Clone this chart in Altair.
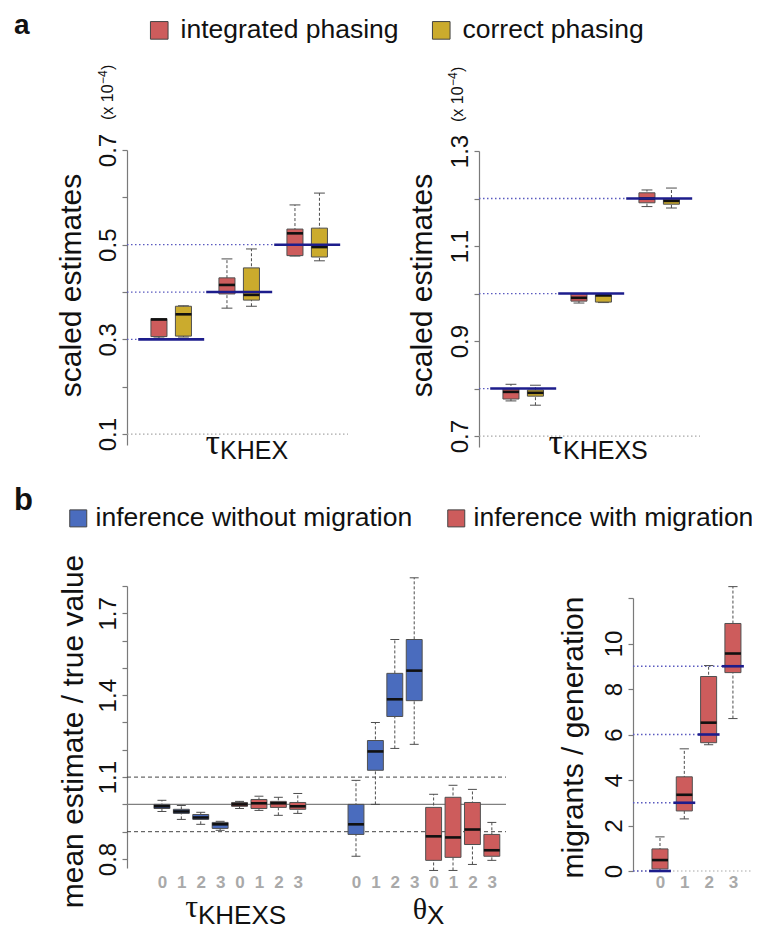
import json
import altair as alt
import pandas as pd

# ------------------------------------------------------------------ data
PHASING = ["integrated phasing", "correct phasing"]
INFERENCE = ["inference without migration", "inference with migration"]
MIG_LEVELS = ["0", "1", "2", "3"]

# each row: lower whisker, Q1, median, Q3, upper whisker
TAU_KHEX_TRUE = [0.3, 0.4, 0.5]
TAU_KHEX_INTEGRATED = [
    [0.303, 0.306, 0.342, 0.344, 0.344],
    [0.366, 0.396, 0.415, 0.430, 0.470],
    [0.476, 0.477, 0.524, 0.533, 0.584],
]
TAU_KHEX_CORRECT = [
    [0.305, 0.307, 0.353, 0.370, 0.371],
    [0.370, 0.383, 0.394, 0.451, 0.491],
    [0.466, 0.474, 0.495, 0.535, 0.609],
]
TAU_KHEXS_TRUE = [0.8, 1.0, 1.2]
TAU_KHEXS_INTEGRATED = [
    [0.774, 0.778, 0.793, 0.799, 0.809],
    [0.980, 0.984, 0.991, 0.999, 1.000],
    [1.183, 1.191, 1.200, 1.212, 1.218],
]
TAU_KHEXS_CORRECT = [
    [0.765, 0.784, 0.791, 0.797, 0.807],
    [0.981, 0.982, 0.996, 0.997, 0.998],
    [1.180, 1.188, 1.195, 1.199, 1.222],
]
RATIO_TAU_NOMIG = [
    [0.974, 0.985, 0.993, 1.000, 1.015],
    [0.945, 0.967, 0.974, 0.982, 0.996],
    [0.927, 0.945, 0.952, 0.963, 0.971],
    [0.905, 0.912, 0.927, 0.934, 0.938],
]
RATIO_TAU_MIG = [
    [0.985, 0.993, 1.000, 1.007, 1.011],
    [0.978, 0.985, 1.004, 1.018, 1.030],
    [0.960, 0.989, 1.004, 1.011, 1.026],
    [0.967, 0.982, 0.993, 1.007, 1.040],
]
RATIO_THETA_NOMIG = [
    [0.810, 0.890, 0.927, 1.000, 1.088],
    [1.000, 1.125, 1.194, 1.234, 1.300],
    [1.205, 1.322, 1.385, 1.480, 1.604],
    [1.220, 1.380, 1.490, 1.604, 1.830],
]
RATIO_THETA_MIG = [
    [0.758, 0.795, 0.883, 0.989, 1.037],
    [0.758, 0.806, 0.879, 1.026, 1.070],
    [0.780, 0.853, 0.908, 1.007, 1.055],
    [0.795, 0.810, 0.832, 0.890, 0.934],
]
RATIO_DASHED = [0.9, 1.1]
RATIO_SOLID = [1.0]
MIGRANTS_TRUE = [0, 3, 6, 9]
MIGRANTS_MIG = [
    [0.00, 0.09, 0.48, 0.97, 1.50],
    [2.29, 2.64, 3.35, 4.14, 5.37],
    [5.55, 5.64, 6.52, 8.55, 9.03],
    [6.70, 8.72, 9.56, 10.88, 12.50],
]

A_LEFT_TICKS = [0.1, 0.2, 0.3, 0.4, 0.5, 0.6, 0.7]
A_LEFT_LABELS = ["0.1", "0.3", "0.5", "0.7"]
A_RIGHT_TICKS = [0.7, 0.8, 0.9, 1.0, 1.1, 1.2, 1.3]
A_RIGHT_LABELS = ["0.7", "0.9", "1.1", "1.3"]
B_LEFT_TICKS = [0.8, 0.9, 1.0, 1.1, 1.2, 1.3, 1.4, 1.5, 1.6, 1.7, 1.8]
B_LEFT_LABELS = ["0.8", "1.1", "1.4", "1.7"]
B_RIGHT_TICKS = [0, 2, 4, 6, 8, 10, 12]
B_RIGHT_LABELS = ["0", "2", "4", "6", "8", "10"]

# ------------------------------------------------------------------ style
SANS = "Liberation Sans, Arial, Helvetica, sans-serif"
SERIF = "Liberation Serif, DejaVu Serif, serif"
RED = "#cd5c5c"
YELLOW = "#cbab2d"
BLUE = "#4a6cbe"
NAVY = "#1d1d8c"
DOT_BLUE = "#5a5abf"
GRID_GRAY = "#a8a8a8"
AXIS_GRAY = "#7a7a7a"
WHISKER = "#4d4d4d"
INK = "#111111"
W, H = 744, 921

# scales (explicit pixel ranges inside one canvas)
XS_A1 = alt.Scale(domain=[0.35, 3.6], range=[119, 340], nice=False, zero=False)
YS_A1 = alt.Scale(domain=[0.077, 0.7], range=[437, 142], nice=False, zero=False)
XS_A2 = alt.Scale(domain=[0.35, 3.6], range=[471, 692], nice=False, zero=False)
YS_A2 = alt.Scale(domain=[0.677, 1.3], range=[439, 143], nice=False, zero=False)
XS_B1 = alt.Scale(domain=[-1.8, 17.73], range=[119, 498], nice=False, zero=False)
YS_B1 = alt.Scale(domain=[0.767, 1.8], range=[860, 578], nice=False, zero=False)
XS_B2 = alt.Scale(domain=[-1.11, 3.99], range=[625, 749], nice=False, zero=False)
YS_B2 = alt.Scale(domain=[0, 12], range=[863, 590], nice=False, zero=False)

TOP_COLORS = alt.Scale(domain=PHASING, range=[RED, YELLOW])
BOT_COLORS = alt.Scale(domain=INFERENCE, range=[BLUE, RED])


def y_axis(ticks, shown, fmt, axis_x, title, title_x, title_y):
    return alt.Axis(
        orient="left", offset=-axis_x, values=ticks, format=fmt,
        labelExpr=f"indexof({json.dumps(shown)}, datum.label) >= 0 ? datum.label : ''",
        grid=False, domainColor=AXIS_GRAY, tickColor=AXIS_GRAY, domainWidth=1.2,
        tickWidth=1.2, tickSize=5, labelAngle=270, labelAlign="center",
        labelBaseline="alphabetic", labelPadding=7, labelFont=SANS, labelFontSize=24,
        labelColor=INK, labelFlush=False, labelOverlap=False,
        title=title, titleFont=SANS, titleFontSize=30, titleFontWeight="normal",
        titleColor=INK, titleAngle=270, titleAlign="center", titleBaseline="alphabetic",
        titleX=title_x, titleY=title_y, titleLimit=1000,
    )


def x_axis(positions, labels):
    return alt.Axis(
        orient="bottom", offset=879 - H, values=positions,
        labelExpr=f"{json.dumps(labels)}[datum.value]",
        domain=False, ticks=False, tickSize=0, grid=False, labelPadding=0,
        labelBaseline="alphabetic", labelAlign="center", labelFont=SANS,
        labelFontSize=17, labelFontWeight="bold", labelColor="#a9a9a9",
        labelFlush=False, labelOverlap=False, title=None,
    )


def box_rows(rows, positions, key, box_half, cap_half):
    out = []
    for p, (lo, q1, md, q3, hi) in zip(positions, rows):
        out.append(dict(key=key, pos=p, lo=lo, q1=q1, med=md, q3=q3, hi=hi,
                        xl=p - box_half, xr=p + box_half,
                        cl=p - cap_half, cr=p + cap_half))
    return out


def hline(df, xs, ys, style, xaxis=None, yaxis=None):
    return alt.Chart(df).mark_rule(**style).encode(
        x=alt.X("x0:Q", scale=xs, axis=xaxis), x2=alt.X2("x1"),
        y=alt.Y("y:Q", scale=ys, axis=yaxis))


def box_layers(df, xs, ys, cscale, legend):
    d = pd.DataFrame(df)
    whisk = alt.Chart(d).mark_rule(color=WHISKER, strokeWidth=1, strokeDash=[3, 2]).encode(
        x=alt.X("pos:Q", scale=xs, axis=None), y=alt.Y("lo:Q", scale=ys, axis=None), y2="hi")
    cap_lo = alt.Chart(d).mark_rule(color=WHISKER, strokeWidth=1).encode(
        x=alt.X("cl:Q", scale=xs, axis=None), x2="cr", y=alt.Y("lo:Q", scale=ys, axis=None))
    cap_hi = alt.Chart(d).mark_rule(color=WHISKER, strokeWidth=1).encode(
        x=alt.X("cl:Q", scale=xs, axis=None), x2="cr", y=alt.Y("hi:Q", scale=ys, axis=None))
    box = alt.Chart(d).mark_rect(stroke="#505050", strokeWidth=1).encode(
        x=alt.X("xl:Q", scale=xs, axis=None), x2="xr",
        y=alt.Y("q1:Q", scale=ys, axis=None), y2="q3",
        color=alt.Color("key:N", scale=cscale, legend=legend))
    med = alt.Chart(d).mark_rule(color=INK, strokeWidth=2.6).encode(
        x=alt.X("xl:Q", scale=xs, axis=None), x2="xr", y=alt.Y("med:Q", scale=ys, axis=None))
    return [whisk, cap_lo, cap_hi, box, med]


def text(t, x, y, size, font=SANS, weight="normal", align="left", angle=None, color=INK):
    mk = dict(align=align, baseline="alphabetic", font=font, fontSize=size,
              fontWeight=weight, color=color)
    if angle is not None:
        mk["angle"] = angle
    return alt.Chart(pd.DataFrame({"t": [t]})).mark_text(**mk).encode(
        text="t:N", x=alt.value(x), y=alt.value(y))


def scale_note(x_base, y_start):
    """rotated '(x 10^-4)' reading upwards from y_start."""
    return [
        text("(x 10", x_base, y_start, 16, angle=270),
        text("\u22124", x_base - 6, y_start - 36, 12, angle=270),
        text(")", x_base, y_start - 50, 16, angle=270),
    ]


DOTTED_BLUE = dict(color=DOT_BLUE, strokeWidth=1.3, strokeDash=[1.5, 2.5])
DOTTED_GRAY = dict(color=GRID_GRAY, strokeWidth=1.2, strokeDash=[1.5, 2.5])
SEGMENT = dict(color=NAVY, strokeWidth=2.6)

legend_common = dict(
    orient="none", direction="horizontal", title=None, labelFont=SANS,
    labelFontSize=26.5, labelColor=INK, labelLimit=0, symbolType="square",
    symbolStrokeColor="#444444", symbolStrokeWidth=1, padding=0,
)
TOP_LEGEND = alt.Legend(legendX=138, legendY=9, symbolSize=310, labelOffset=8,
                        columnPadding=29, **legend_common)
BOT_LEGEND = alt.Legend(legendX=57, legendY=497, symbolSize=289, labelOffset=4,
                        columnPadding=30, **legend_common)

layers = []

# ------------------------------------------------------------------ panel a (two sub-panels)
GROUP_SHIFT, BOX_HALF_A, CAP_HALF_A, TRUE_HALF_A = 0.18, 0.118, 0.08, 0.485


def panel_a(true_vals, integ, corr, ticks, shown, xs, ys, axis_x, title_y, title_x, cscale, legend):
    centers = [1 + i for i in range(len(true_vals))]
    lo_tick = min(ticks)
    x_lo, x_hi = xs.domain[0], xs.domain[1]
    grid = pd.DataFrame({"x0": [x_lo], "x1": [x_hi], "y": [lo_tick]})
    dots = pd.DataFrame({"x0": [x_lo] * len(true_vals),
                         "x1": [c - TRUE_HALF_A for c in centers], "y": true_vals})
    segs = pd.DataFrame({"x0": [c - TRUE_HALF_A for c in centers],
                         "x1": [c + TRUE_HALF_A for c in centers], "y": true_vals})
    out = [hline(grid, xs, ys, DOTTED_GRAY, xaxis=None,
                 yaxis=y_axis(ticks, shown, ".1f", axis_x, "scaled estimates", title_x, title_y)),
           hline(dots, xs, ys, DOTTED_BLUE)]
    rows = box_rows(integ, [c - GROUP_SHIFT for c in centers], PHASING[0], BOX_HALF_A, CAP_HALF_A)
    rows += box_rows(corr, [c + GROUP_SHIFT for c in centers], PHASING[1], BOX_HALF_A, CAP_HALF_A)
    out += box_layers(rows, xs, ys, cscale, legend)
    out.append(hline(segs, xs, ys, SEGMENT))
    return out


layers += panel_a(TAU_KHEX_TRUE, TAU_KHEX_INTEGRATED, TAU_KHEX_CORRECT, A_LEFT_TICKS,
                  A_LEFT_LABELS, XS_A1, YS_A1, 119, 277, -47, TOP_COLORS, TOP_LEGEND)
layers += panel_a(TAU_KHEXS_TRUE, TAU_KHEXS_INTEGRATED, TAU_KHEXS_CORRECT, A_RIGHT_TICKS,
                  A_RIGHT_LABELS, XS_A2, YS_A2, 471, 277, -48, TOP_COLORS, None)

# ------------------------------------------------------------------ panel b, left
BOX_HALF_B1, CAP_HALF_B1 = 0.41, 0.23
b1_positions = list(range(0, 8)) + list(range(10, 18))
b1_labels = MIG_LEVELS * 2 + ["", ""] + MIG_LEVELS * 2
xlo, xhi = XS_B1.domain[0], XS_B1.domain[1]
solid = pd.DataFrame({"x0": [xlo] * len(RATIO_SOLID), "x1": [xhi] * len(RATIO_SOLID), "y": RATIO_SOLID})
dashed = pd.DataFrame({"x0": [xlo] * len(RATIO_DASHED), "x1": [xhi] * len(RATIO_DASHED), "y": RATIO_DASHED})
layers.append(hline(solid, XS_B1, YS_B1, dict(color="#808080", strokeWidth=1.2),
                    xaxis=x_axis(b1_positions, b1_labels),
                    yaxis=y_axis(B_LEFT_TICKS, B_LEFT_LABELS, ".1f", 119,
                                 "mean estimate / true value", -45, 723)))
layers.append(hline(dashed, XS_B1, YS_B1, dict(color="#444444", strokeWidth=1, strokeDash=[4, 3])))
rows = box_rows(RATIO_TAU_NOMIG, [0, 1, 2, 3], INFERENCE[0], BOX_HALF_B1, CAP_HALF_B1)
rows += box_rows(RATIO_TAU_MIG, [4, 5, 6, 7], INFERENCE[1], BOX_HALF_B1, CAP_HALF_B1)
rows += box_rows(RATIO_THETA_NOMIG, [10, 11, 12, 13], INFERENCE[0], BOX_HALF_B1, CAP_HALF_B1)
rows += box_rows(RATIO_THETA_MIG, [14, 15, 16, 17], INFERENCE[1], BOX_HALF_B1, CAP_HALF_B1)
layers += box_layers(rows, XS_B1, YS_B1, BOT_COLORS, BOT_LEGEND)

# ------------------------------------------------------------------ panel b, right
BOX_HALF_B2, CAP_HALF_B2, TRUE_HALF_B2 = 0.33, 0.19, 0.45
b2_positions = list(range(len(MIG_LEVELS)))
xlo, xhi = XS_B2.domain[0], XS_B2.domain[1]
grid = pd.DataFrame({"x0": [xlo], "x1": [xhi], "y": [min(B_RIGHT_TICKS)]})
dots = pd.DataFrame({"x0": [xlo] * 4, "x1": [p - TRUE_HALF_B2 for p in b2_positions], "y": MIGRANTS_TRUE})
segs = pd.DataFrame({"x0": [p - TRUE_HALF_B2 for p in b2_positions],
                     "x1": [p + TRUE_HALF_B2 for p in b2_positions], "y": MIGRANTS_TRUE})
layers.append(hline(grid, XS_B2, YS_B2, DOTTED_GRAY,
                    xaxis=x_axis(b2_positions, MIG_LEVELS),
                    yaxis=y_axis(B_RIGHT_TICKS, B_RIGHT_LABELS, "d", 625,
                                 "migrants / generation", -51, 729)))
layers.append(hline(dots, XS_B2, YS_B2, DOTTED_BLUE))
rows = box_rows(MIGRANTS_MIG, b2_positions, INFERENCE[1], BOX_HALF_B2, CAP_HALF_B2)
layers += box_layers(rows, XS_B2, YS_B2, BOT_COLORS, None)
layers.append(hline(segs, XS_B2, YS_B2, SEGMENT))

# ------------------------------------------------------------------ annotations
layers += [
    text("a", 6, 26, 28, weight="bold"),
    text("b", 6, 502, 31, weight="bold"),
    text("\u03c4", 212, 446, 36, font=SERIF, align="right"),
    text("KHEX", 212, 451, 25),
    text("\u03c4", 190, 909, 32, font=SERIF, align="right"),
    text("KHEXS", 190, 916, 26),
    text("\u03c4", 555, 446, 36, font=SERIF, align="right"),
    text("KHEXS", 555, 451, 25),
    text("\u03b8", 419, 911, 30, font=SERIF, align="right"),
    text("X", 419, 916, 26),
]
layers += scale_note(105, 112)
layers += scale_note(455, 114)

chart = (
    alt.layer(*layers)
    .resolve_scale(x="independent", y="independent", color="independent")
    .properties(width=W, height=H, padding=0, background="white",
                autosize=alt.AutoSizeParams(type="none"))
    .configure_view(stroke=None)
)

chart.save("out.html", embed_options={"renderer": "svg", "actions": False})
